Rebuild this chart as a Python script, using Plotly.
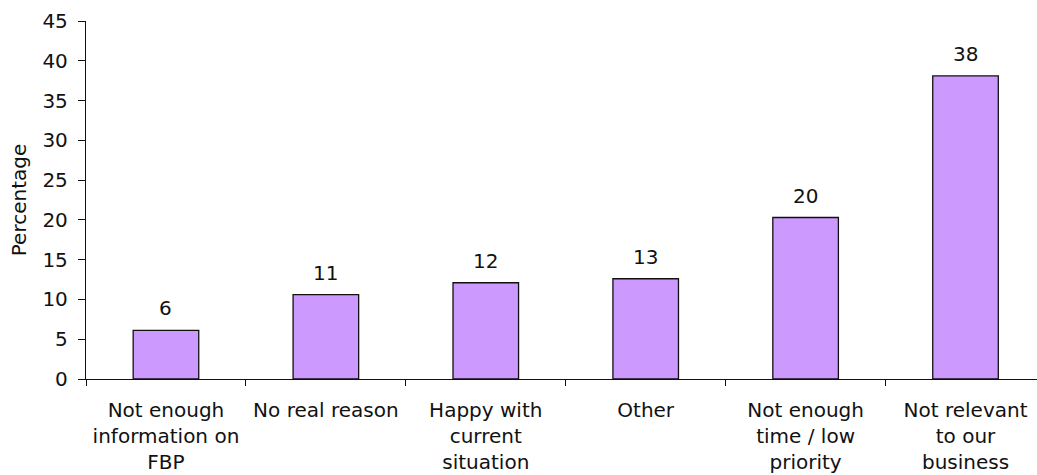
import plotly.graph_objects as go

# Reasons given, with the share of respondents (%) for each
categories = [
    "Not enough<br>information on<br>FBP",
    "No real reason",
    "Happy with<br>current<br>situation",
    "Other",
    "Not enough<br>time / low<br>priority",
    "Not relevant<br>to our<br>business",
]
percentages = [6.1, 10.6, 12.1, 12.6, 20.3, 38.1]
y_ticks = [0, 5, 10, 15, 20, 25, 30, 35, 40, 45]

FONT = "DejaVu Sans, Verdana, sans-serif"
INK = "#111111"

fig = go.Figure(
    go.Bar(
        x=categories,
        y=percentages,
        marker=dict(color="#CC99FF", line=dict(color=INK, width=1.3)),
        width=0.41,
        hoverinfo="skip",
    )
)

# Value labels above each bar, rounded to whole percentages
for cat, val in zip(categories, percentages):
    fig.add_annotation(
        x=cat,
        y=val,
        text=f"{round(val):d}",
        showarrow=False,
        yanchor="middle",
        yshift=22,
        font=dict(family=FONT, size=20, color=INK),
    )

fig.update_layout(
    width=1037,
    height=475,
    margin=dict(l=86, r=0, t=21, b=96),
    paper_bgcolor="white",
    plot_bgcolor="white",
    showlegend=False,
    font=dict(family=FONT, size=20, color=INK),
)

fig.update_xaxes(
    range=[-0.5, 5.447],
    showline=True,
    linecolor=INK,
    linewidth=1.3,
    ticks="outside",
    tickson="boundaries",
    ticklen=6,
    tickcolor=INK,
    tickwidth=1.3,
    showgrid=False,
    ticklabelstandoff=13,
    tickfont=dict(family=FONT, size=20, color=INK),
)

fig.update_yaxes(
    range=[0, 45],
    tickvals=y_ticks,
    showline=True,
    linecolor=INK,
    linewidth=1.3,
    ticks="outside",
    ticklen=7,
    tickcolor=INK,
    tickwidth=1.3,
    showgrid=False,
    zeroline=False,
    ticklabelstandoff=6,
    tickfont=dict(family=FONT, size=20, color=INK),
    title=dict(text="Percentage", font=dict(family=FONT, size=20, color=INK), standoff=10),
)

fig.write_html("out.html")
